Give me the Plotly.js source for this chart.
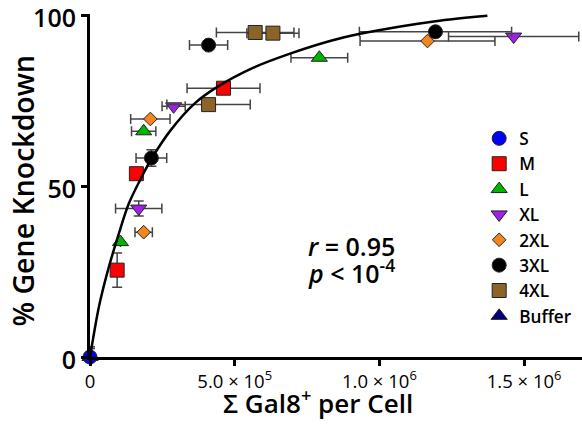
<!DOCTYPE html>
<html><head><meta charset="utf-8">
<script src="https://cdn.plot.ly/plotly-3.0.1.min.js"></script>
<style>html,body{margin:0;padding:0;background:#fff}#chart{width:582px;height:424px}</style>
</head><body><div id="chart"></div>
<script>
// Data
const groups = ['S','M','L','XL','2XL','3XL','4XL','Buffer'];
const sX = [0];                          const sY = [0];
const mX = [93800, 160300, 461400];       const mY = [25.4, 53.6, 78.6];
const lX = [105200, 185500, 792400];      const lY = [33.6, 66.0, 87.5];
const xlX = [168300, 289000, 1463800];    const xlY = [43.4, 73.3, 93.7];
const x2lX = [185500, 208600, 1166200];   const x2lY = [36.5, 69.6, 92.4];
const x3lX = [212100, 409700, 1193700];   const x3lY = [58.2, 91.2, 95.1];
const x4lX = [409700, 570700, 632000];    const x4lY = [73.8, 94.9, 94.7];
const bufX = [0];                         const bufY = [0];
// error bars (x: Gal8 count, y: % knockdown)
const sXerr = [5000];                 const sYerr = [3];
const mXerr = [0, 0, 126000];         const mYerr = [5.0, 0, 0];
const lXerr = [0, 42000, 98000];      const lYerr = [0, 0, 0];
const xlXerr = [80000, 40000, 225000];const xlYerr = [2.2, 0, 0];
const x2lXerr = [30000, 68000, 233000];const x2lYerr = [0, 0, 0];
const x3lXerr = [53000, 66000, 263000];const x3lYerr = [2.4, 0, 0];
const x4lXerr = [144000, 134000, 90000];const x4lYerr = [0, 0, 0];
const bufXerr = [0];                  const bufYerr = [2.5];
// fitted curve
const fitX = [0, 30300, 62800, 99300, 133800, 185500, 212100, 277600, 363800, 438600, 564800, 691300, 829200, 932800, 1193800, 1373100];
const fitY = [0, 14.5, 25.6, 36.0, 44.8, 53.8, 57.9, 66.2, 74.3, 78.9, 84.6, 88.7, 92.4, 94.5, 98.2, 99.8];
// tick labels and axis titles
const xTickVals = [0, 500000, 1000000, 1500000];
const xTickText = ['0', '5.0 × 10<sup>5</sup>', '1.0 × 10<sup>6</sup>', '1.5 × 10<sup>6</sup>'];
const yTickVals = [0, 50, 100];
const xTitle = 'Σ Gal8<sup>+</sup> per Cell';
const yTitle = '% Gene Knockdown';

const FONT = 'Open Sans, Noto Sans, sans-serif';
const series = [
  {name:'S', x:sX, y:sY, ex:sXerr, ey:sYerr, sym:'circle', size:14, color:'#0000FF'},
  {name:'M', x:mX, y:mY, ex:mXerr, ey:mYerr, sym:'square', size:14, color:'#FF0000'},
  {name:'L', x:lX, y:lY, ex:lXerr, ey:lYerr, sym:'triangle-up', size:14, color:'#00B400'},
  {name:'XL', x:xlX, y:xlY, ex:xlXerr, ey:xlYerr, sym:'triangle-down', size:14, color:'#A020E8'},
  {name:'2XL', x:x2lX, y:x2lY, ex:x2lXerr, ey:x2lYerr, sym:'diamond', size:10.5, color:'#F5841F'},
  {name:'3XL', x:x3lX, y:x3lY, ex:x3lXerr, ey:x3lYerr, sym:'circle', size:14, color:'#000000'},
  {name:'4XL', x:x4lX, y:x4lY, ex:x4lXerr, ey:x4lYerr, sym:'square', size:14, color:'#8C6428'},
  {name:'Buffer', x:bufX, y:bufY, ex:bufXerr, ey:bufYerr, sym:'triangle-up', size:14, color:'#000080'}
];
const order = [7,0,1,2,3,4,5,6];
const traces = [];
order.forEach(i => {
  const s = series[i];
  traces.push({
    type:'scatter', mode:'markers', name:s.name, x:s.x, y:s.y,
    legendrank: i+1,
    cliponaxis:false,
    marker:{symbol:s.sym, size:s.size, color:s.color, line:{color:'#222', width:1}},
    error_x:{type:'data', array:s.ex, visible:true, color:'#444', thickness:1.5, width:5},
    error_y:{type:'data', array:s.ey, visible:true, color:'#444', thickness:1.5, width:5}
  });
});
traces.push({type:'scatter', mode:'lines', x:fitX, y:fitY, showlegend:false, cliponaxis:false,
  line:{color:'#000', width:2.5, shape:'spline', smoothing:0.8}, hoverinfo:'skip'});

const layout = {
  width:582, height:424,
  margin:{l:90, r:0, t:14, b:67},
  paper_bgcolor:'#fff', plot_bgcolor:'#fff',
  font:{family:FONT, color:'#000'},
  showlegend:true,
  legend:{x:0.791, y:0.689, xanchor:'left', yanchor:'top', bgcolor:'rgba(0,0,0,0)',
    font:{family:FONT, size:17.2, weight:600, color:'#000'}, traceorder:'normal', itemwidth:30},
  xaxis:{range:[0,1700000], showgrid:false, zeroline:false, showline:true, linecolor:'#000', linewidth:3,
    ticks:'outside', ticklen:6, tickwidth:3, tickcolor:'#000',
    tickmode:'array', tickvals:xTickVals, ticktext:xTickText, ticklabeloverflow:'allow',
    tickfont:{family:FONT, size:18.5, color:'#000'}},
  yaxis:{range:[0,100.3], showgrid:false, zeroline:false, showline:true, linecolor:'#000', linewidth:3,
    ticks:'outside', ticklen:6, tickwidth:3, tickcolor:'#000',
    tickmode:'array', tickvals:yTickVals, ticklabeloverflow:'allow', ticklabelshift:3,
    tickfont:{family:FONT, size:25, weight:600, color:'#000'}},
  annotations:[
    {xref:'paper', yref:'paper', x:0.463, y:-0.131, xanchor:'center', yanchor:'middle', showarrow:false,
      text:xTitle, font:{family:FONT, size:26, weight:600, color:'#000'}},
    {xref:'paper', yref:'paper', x:-0.137, y:0.484, xanchor:'center', yanchor:'middle', showarrow:false, textangle:-90,
      text:yTitle, font:{family:FONT, size:28.5, weight:600, color:'#000'}},
    {xref:'paper', yref:'paper', x:0.44, y:0.325, xanchor:'left', yanchor:'middle', showarrow:false,
      text:'<i>r</i> = 0.95', font:{family:FONT, size:25, weight:600, color:'#000'}},
    {xref:'paper', yref:'paper', x:0.44, y:0.248, xanchor:'left', yanchor:'middle', showarrow:false,
      text:'<i>p</i> &lt; 10<sup>-4</sup>', font:{family:FONT, size:25, weight:600, color:'#000'}}
  ]
};
Plotly.newPlot('chart', traces, layout, {displayModeBar:false, staticPlot:true});
</script></body></html>
